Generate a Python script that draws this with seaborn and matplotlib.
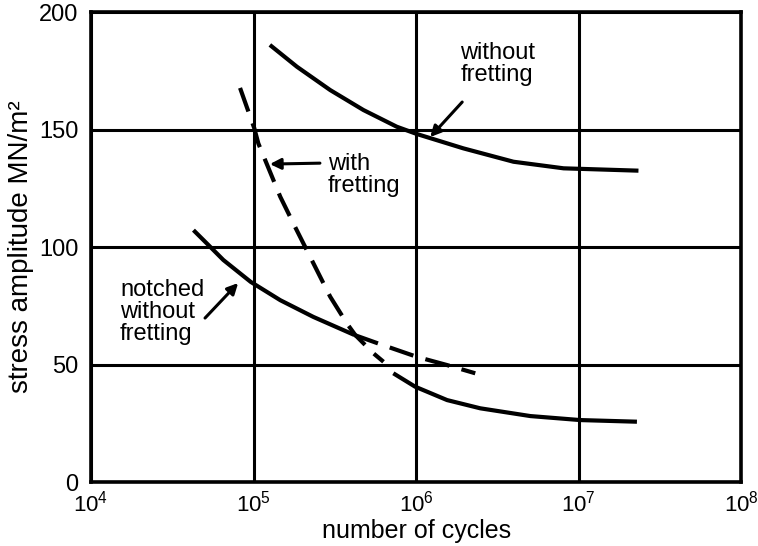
import numpy as np
import pandas as pd
import matplotlib
matplotlib.use('Agg')
import matplotlib.pyplot as plt
from matplotlib.ticker import LogLocator, NullLocator, FixedLocator
import seaborn as sns

# curves (cycles, stress amplitude MN/m2)
plain_n = [1.26e5, 1.85e5, 2.96e5, 4.74e5, 7.6e5, 1.01e6, 1.95e6, 3.97e6, 8.07e6, 2.33e7]
plain_s = [186.0, 176.7, 166.8, 158.3, 151.2, 148.1, 142.0, 136.3, 133.5, 132.5]

fret_n = [8.26e4, 1.01e5, 1.07e5, 1.46e5, 1.8e5, 2.96e5, 3.75e5, 4.22e5, 5.46e5, 6.3e5]
fret_s = [167.7, 150.6, 144.1, 121.4, 108.6, 78.9, 67.5, 62.6, 54.8, 51.2]

notch_n = [4.27e4, 5.15e4, 6.52e4, 9.6e4, 1.46e5, 2.33e5, 4.17e5]
notch_s = [107.2, 101.6, 94.5, 85.2, 77.4, 70.3, 62.6]

notch_dash_n = [4.17e5, 6.0e5, 1.01e6, 1.55e6, 2.31e6]
notch_dash_s = [62.6, 58.7, 53.3, 49.8, 46.3]

tail_n = [7.24e5, 9.86e5, 1.55e6, 2.48e6, 5.04e6, 1.02e7, 2.28e7]
tail_s = [46.3, 40.6, 34.9, 31.4, 28.1, 26.4, 25.7]

sns.set_style('white')
plt.rcParams['font.family'] = ['Liberation Sans', 'DejaVu Sans']
plt.rcParams['mathtext.fontset'] = 'custom'
plt.rcParams['mathtext.rm'] = 'Liberation Sans'
for k in ['text.color', 'axes.labelcolor', 'xtick.color', 'ytick.color']:
    plt.rcParams[k] = 'black'

fig = plt.figure(figsize=(7.58, 5.46), dpi=100)
ax = fig.add_axes([0.120, 0.117, 0.858, 0.861])

lw = 3.0
for n, s, dashed in [(plain_n, plain_s, False), (fret_n, fret_s, True),
                     (notch_n, notch_s, False), (notch_dash_n, notch_dash_s, True),
                     (tail_n, tail_s, False)]:
    df = pd.DataFrame({'cycles': n, 'stress': s})
    sns.lineplot(data=df, x='cycles', y='stress', sort=False, ax=ax,
                 color='black', lw=lw, estimator=None)
    l = ax.lines[-1]
    l.set_solid_capstyle('butt')
    l.set_solid_joinstyle('round')
    if dashed:
        l.set_dashes((6, 3))
        l.set_dash_capstyle('butt')

ax.set_xscale('log')
ax.set_xlim(1e4, 1e8)
ax.set_ylim(0, 200)
ax.xaxis.set_major_locator(LogLocator(base=10, numticks=10))
ax.xaxis.set_minor_locator(NullLocator())
ax.yaxis.set_major_locator(FixedLocator([0, 50, 100, 150, 200]))
ax.grid(True, color='black', lw=2.2)
for sp in ax.spines.values():
    sp.set_color('black')
    sp.set_linewidth(2.6)
ax.tick_params(axis='x', length=0, pad=6, labelsize=16)
ax.tick_params(axis='y', length=0, pad=9, labelsize=17)
ax.set_xlabel('number of cycles', fontsize=18, labelpad=2)
ax.set_ylabel('stress amplitude MN/m²', fontsize=20, labelpad=4)

txt = dict(fontsize=17, ha='left', va='center', linespacing=1.0)
ax.text(1.87e6, 178, 'without\nfretting', **txt)
ax.text(2.87e5, 130.6, 'with\nfretting', **txt)
ax.text(1.51e4, 72.3, 'notched\nwithout\nfretting', **txt)

arr = dict(arrowstyle='-|>', color='black', lw=2.2, mutation_scale=16,
           shrinkA=0, shrinkB=0)
ax.annotate('', xy=(1.22e6, 146.8), xytext=(1.92e6, 161.7), arrowprops=arr)
ax.annotate('', xy=(1.26e5, 135.3), xytext=(2.56e5, 135.7), arrowprops=arr)
ax.annotate('', xy=(8.04e4, 84.7), xytext=(5.03e4, 69.8), arrowprops=arr)

fig.savefig('out.png', dpi=100)
